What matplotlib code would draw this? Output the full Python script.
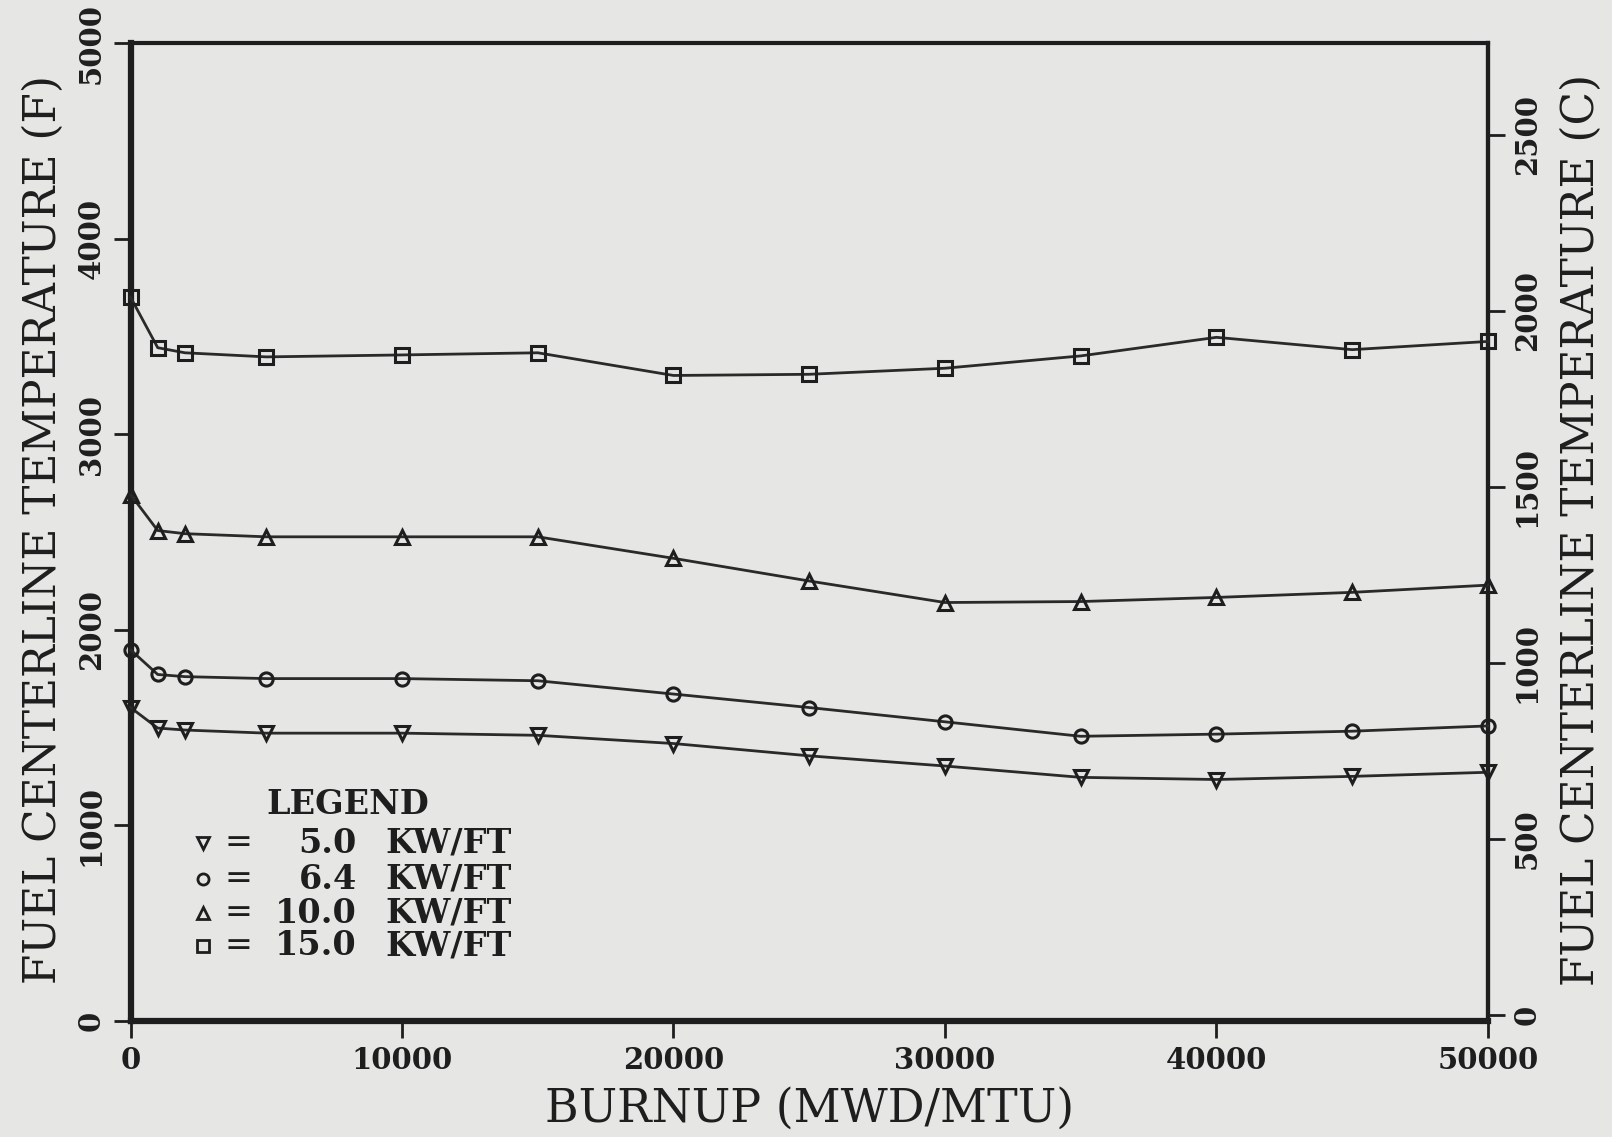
import matplotlib
matplotlib.use("Agg")
import matplotlib.pyplot as plt

burnup = [0, 1000, 2000, 5000, 10000, 15000, 20000, 25000, 30000, 35000, 40000, 45000, 50000]
t_5_0 = [1603, 1498, 1488, 1472, 1472, 1461, 1419, 1356, 1304, 1246, 1235, 1251, 1272]
t_6_4 = [1898, 1772, 1761, 1751, 1751, 1740, 1672, 1603, 1530, 1456, 1467, 1482, 1509]
t_10_0 = [2692, 2508, 2492, 2476, 2476, 2476, 2366, 2250, 2140, 2145, 2166, 2192, 2229]
t_15_0 = [3701, 3443, 3417, 3396, 3406, 3417, 3301, 3307, 3338, 3401, 3496, 3433, 3475]
series_labels = ["5.0", "6.4", "10.0", "15.0"]
markers = ["v", "o", "^", "s"]
xticks = [0, 10000, 20000, 30000, 40000, 50000]
yticks_f = [0, 1000, 2000, 3000, 4000, 5000]
yticks_c = [0, 500, 1000, 1500, 2000, 2500]

BG = "#e6e6e4"
INK = "#1e1e1e"
FONT = "DejaVu Serif"
plt.rcParams["font.family"] = FONT

fig = plt.figure(figsize=(16.12, 11.37), dpi=100, facecolor=BG)
ax = fig.add_axes([0.081, 0.102, 0.842, 0.860], facecolor=BG)

for ys, m in zip([t_5_0, t_6_4, t_10_0, t_15_0], markers):
    ax.plot(burnup, ys, color="#2a2a2a", lw=2.0, marker=m, ms=9.5,
            mfc="none", mec=INK, mew=2.2, clip_on=False, zorder=3)

ax.set_xlim(0, 50000)
ax.set_ylim(0, 5000)
ax.set_xticks(xticks)
ax.set_yticks(yticks_f)
ax.set_xticklabels([str(v) for v in xticks], fontsize=21, color=INK, fontweight="bold")
ax.set_yticklabels([str(v) for v in yticks_f], fontsize=21, color=INK,
                   rotation=90, va="center", fontweight="bold")
ax.tick_params(axis="both", direction="out", length=12, width=2, color=INK, pad=6)

for side, w in [("left", 4.5), ("bottom", 4.5), ("top", 3), ("right", 3)]:
    ax.spines[side].set_linewidth(w)
    ax.spines[side].set_color(INK)

ax.set_xlabel("BURNUP (MWD/MTU)", fontsize=33, color=INK, labelpad=8)
fig.text(0.0267, 0.534, "FUEL CENTERLINE TEMPERATURE (F)", fontsize=31.5,
         color=INK, rotation=90, ha="center", va="center")

sec = ax.secondary_yaxis("right", functions=(lambda f: (f - 32) / 1.8,
                                             lambda c: c * 1.8 + 32))
sec.set_yticks(yticks_c)
sec.set_yticklabels([str(v) for v in yticks_c], fontsize=21, color=INK,
                    rotation=90, va="center", fontweight="bold")
sec.tick_params(direction="out", length=12, width=2, color=INK, pad=6)
sec.spines["right"].set_linewidth(3)
sec.spines["right"].set_color(INK)
fig.text(0.981, 0.534, "FUEL CENTERLINE TEMPERATURE (C)", fontsize=31.5,
         color=INK, rotation=90, ha="center", va="center")

# legend block
ax.text(0.160, 0.221, "LEGEND", transform=ax.transAxes, fontsize=24,
        ha="center", va="center", color=INK, fontweight="bold")
rows_y = [0.182, 0.145, 0.110, 0.077]
for yy, m, lab in zip(rows_y, markers, series_labels):
    ax.plot([0.053], [yy], transform=ax.transAxes, marker=m, ms=8,
            mfc="none", mec=INK, mew=2.0, ls="none", clip_on=False)
    ax.text(0.0795, yy, "=", transform=ax.transAxes, fontsize=24,
            ha="center", va="center", color=INK)
    ax.text(0.1667, yy, lab, transform=ax.transAxes, fontsize=24,
            ha="right", va="center", color=INK, fontweight="bold")
    ax.text(0.188, yy, "KW/FT", transform=ax.transAxes, fontsize=24,
            ha="left", va="center", color=INK, fontweight="bold")

fig.savefig("out.png", dpi=100, facecolor=BG)
